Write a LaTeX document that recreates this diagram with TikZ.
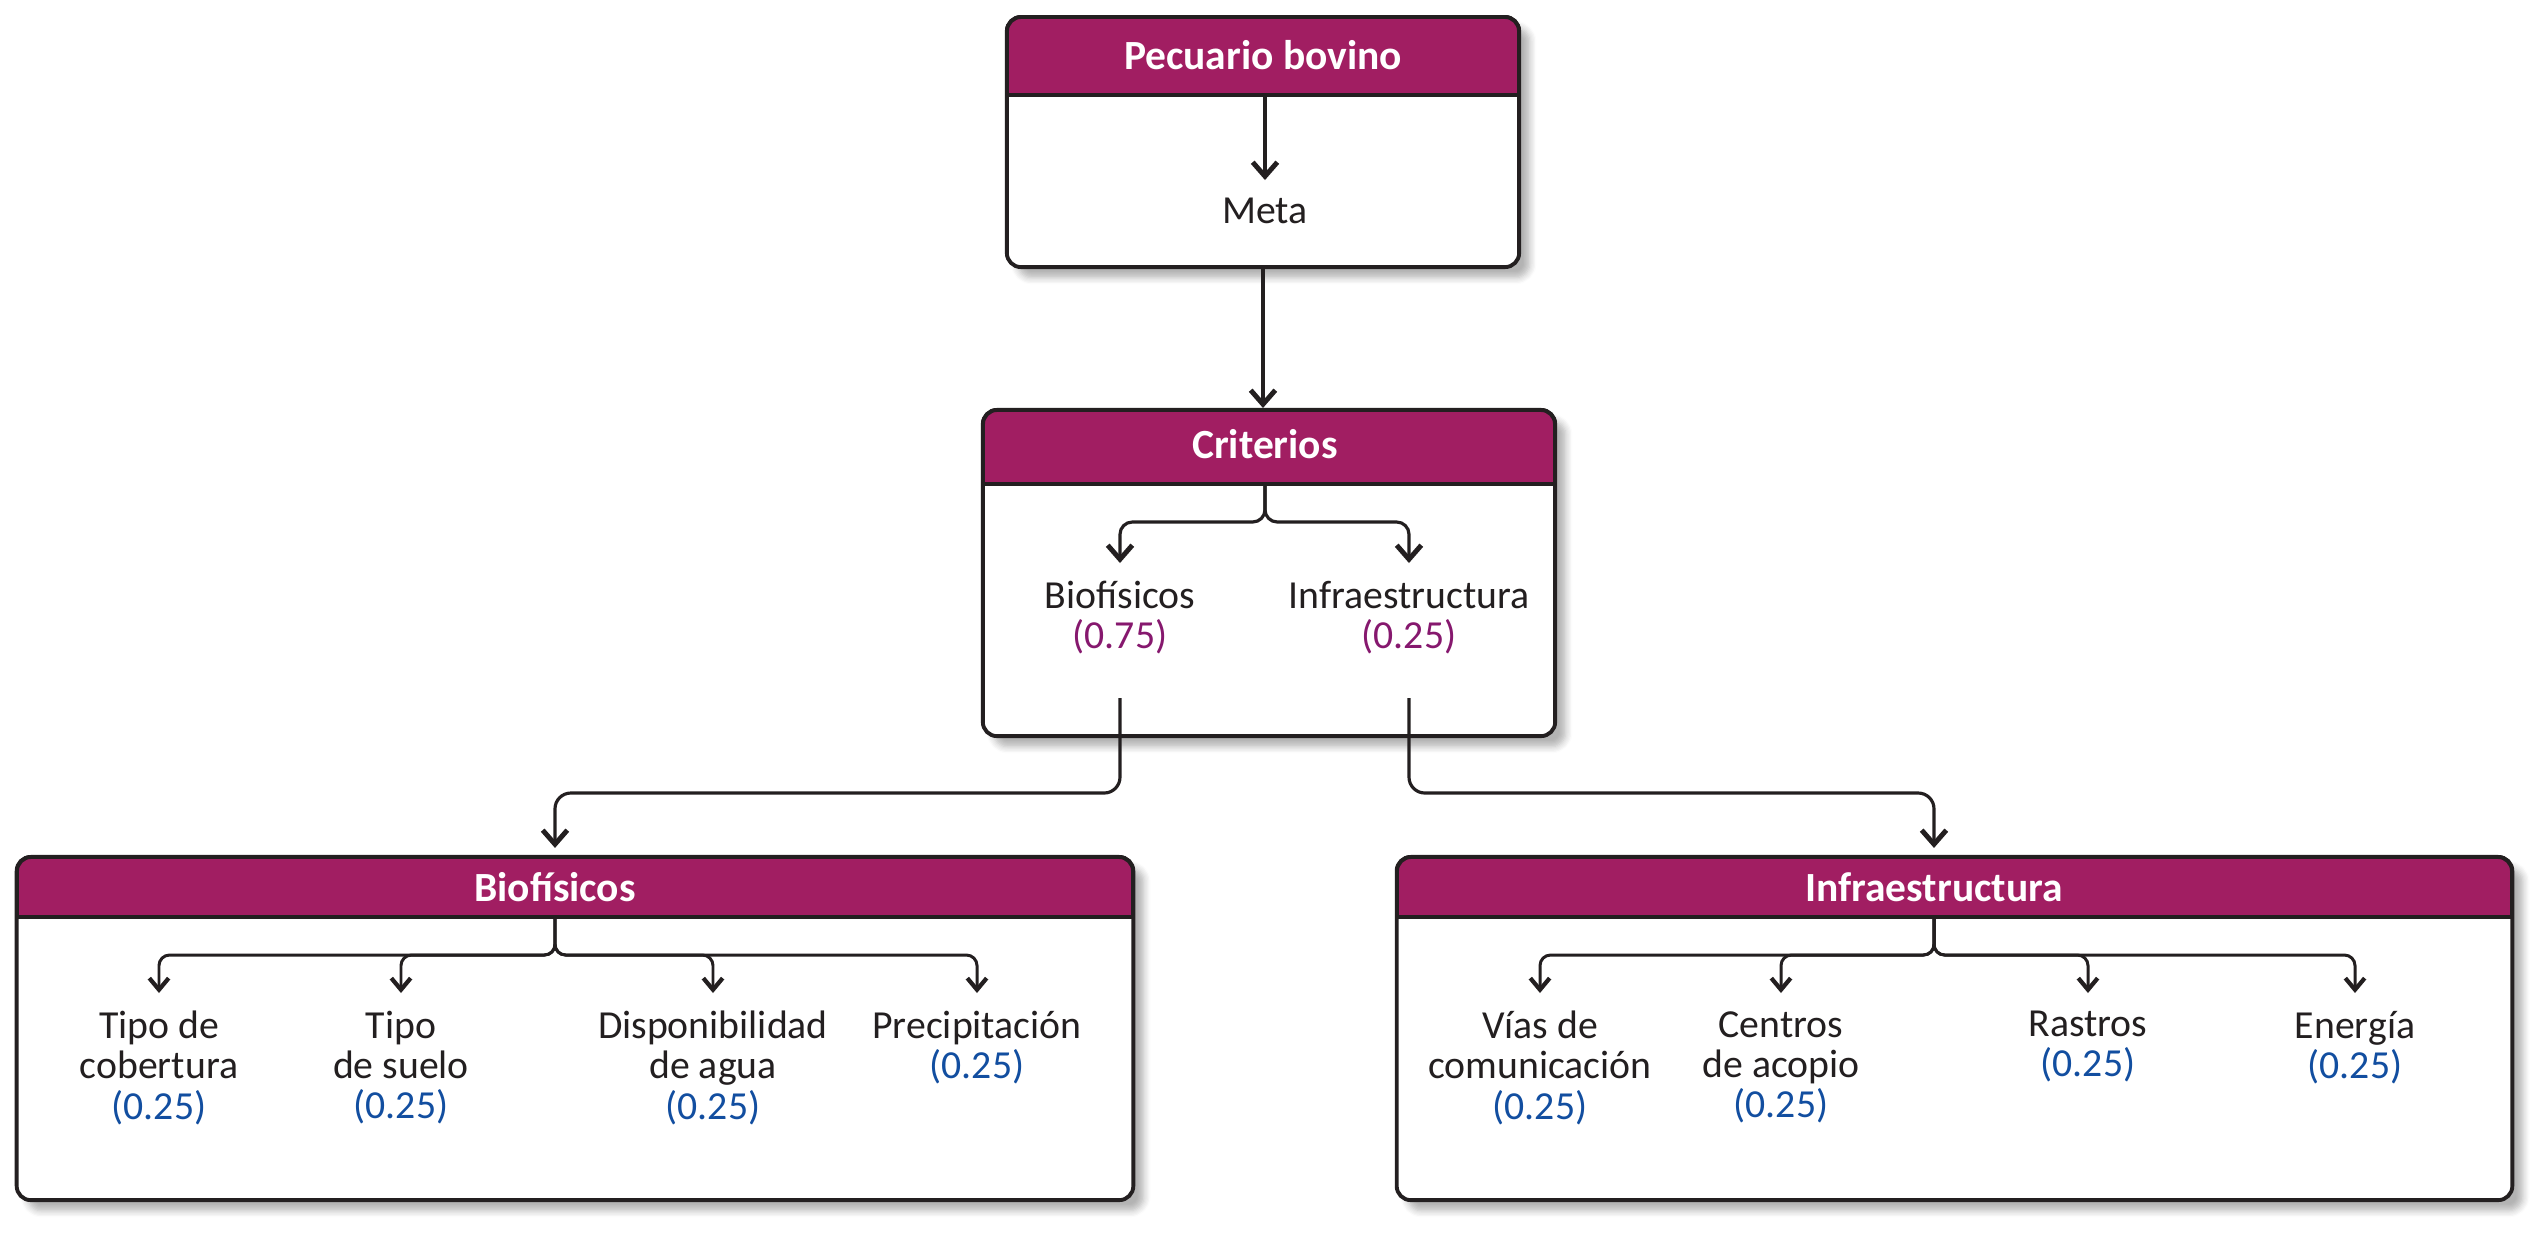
\documentclass[tikz,border=0pt]{standalone}
\usepackage{fontspec}
\setmainfont{Carlito}
\usepackage{xcolor}
\usepackage{tikz}
\usetikzlibrary{arrows.meta}
\usetikzlibrary{shadows.blur}
\definecolor{hdrmag}{RGB}{161,30,98}
\definecolor{wtpurple}{RGB}{134,24,110}
\definecolor{wtblue}{RGB}{18,78,160}
\definecolor{ink}{RGB}{35,31,32}
\tikzstyle{panel} = [draw=ink, line width=1.1pt, fill=white, rounded corners=4pt,
  blur shadow={shadow xshift=3pt, shadow yshift=-3pt, shadow opacity=30, shadow blur steps=6}]
\tikzstyle{hdrbar} = [fill=hdrmag, draw=ink, line width=1.1pt]
\tikzstyle{hdtext} = [text=white, font=\fontsize{11.8}{12}\selectfont\bfseries, inner sep=0]
\tikzstyle{item} = [align=center, text=ink, font=\fontsize{11.3}{11.4}\selectfont, anchor=north, inner xsep=1pt, inner ysep=5pt]
\tikzstyle{link} = [-{Straight Barb[length=4pt,width=7pt,line width=1.4pt]}, line width=0.9pt, draw=ink]
\tikzstyle{sublink} = [-{Straight Barb[length=3.3pt,width=5.5pt,line width=1.2pt]}, line width=0.85pt, draw=ink]

\begin{document}
\begin{tikzpicture}[x=0.01cm, y=-0.01cm]
\useasboundingbox (0,0) rectangle (2547,1235);
% panels
\node [panel, minimum width=5.12cm, minimum height=2.50cm] (goal) at (1263,142) {};
\node [panel, minimum width=5.72cm, minimum height=3.26cm] (crit) at (1269,573) {};
\node [panel, minimum width=11.16cm, minimum height=3.43cm] (bio) at (575,1028.5) {};
\node [panel, minimum width=11.15cm, minimum height=3.43cm] (infra) at (1954.5,1028.5) {};
% header bars
\draw [hdrbar] (1007,95) [rounded corners=4pt] -- (1007,17) -- (1519,17) [sharp corners] -- (1519,95) -- cycle;
\draw [hdrbar] (983,484) [rounded corners=4pt] -- (983,410) -- (1555,410) [sharp corners] -- (1555,484) -- cycle;
\draw [hdrbar] (17,917) [rounded corners=4pt] -- (17,857) -- (1133,857) [sharp corners] -- (1133,917) -- cycle;
\draw [hdrbar] (1397,917) [rounded corners=4pt] -- (1397,857) -- (2512,857) [sharp corners] -- (2512,917) -- cycle;
\node [hdtext] (goalhd) at (1263,55) {Pecuario bovino};
\node [hdtext] (crithd) at (1265,444) {Criterios};
\node [hdtext] (biohd) at (555,887) {Biofísicos};
\node [hdtext] (infrahd) at (1934,887) {Infraestructura};
\coordinate (goalbar) at (1265,95);
\coordinate (critbar) at (1265,484);
\coordinate (biobar) at (555,917);
\coordinate (infrabar) at (1934,917);
% items
\node [item] (meta) at (1265,180) {Meta};
\node [item] (cbio) at (1120,563) {Biofísicos\\\textcolor{wtpurple}{(0.75)}};
\node [item] (cinf) at (1409,563) {Infraestructura\\\textcolor{wtpurple}{(0.25)}};
\node [item] (cover) at (159,993) {Tipo de\\cobertura\\\textcolor{wtblue}{(0.25)}};
\node [item] (soil) at (401,993) {Tipo\\de suelo\\\textcolor{wtblue}{(0.25)}};
\node [item] (water) at (713,993) {Disponibilidad\\de agua\\\textcolor{wtblue}{(0.25)}};
\node [item] (rain) at (977,993) {Precipitación\\\textcolor{wtblue}{(0.25)}};
\node [item] (roads) at (1540,993) {Vías de\\comunicación\\\textcolor{wtblue}{(0.25)}};
\node [item] (depots) at (1781,993) {Centros\\de acopio\\\textcolor{wtblue}{(0.25)}};
\node [item] (slaughter) at (2088,993) {Rastros\\\textcolor{wtblue}{(0.25)}};
\node [item] (energy) at (2355,993) {Energía\\\textcolor{wtblue}{(0.25)}};
% connectors
\draw [link] (goalbar) -- (meta.north);
\draw [link] (goal.south) -- (goal.south |- crit.north);
\draw [link, rounded corners=3.5pt] (critbar) -- ++(0,38) -| (cbio.north);
\draw [link, rounded corners=3.5pt] (critbar) -- ++(0,38) -| (cinf.north);
\coordinate (cbioout) at (1120,698);
\coordinate (cinfout) at (1409,698);
\draw [link, rounded corners=4.5pt, shorten >=2pt] (cbioout) -- ++(0,95) -| (biohd.north |- bio.north);
\draw [link, rounded corners=4.5pt, shorten >=2pt] (cinfout) -- ++(0,95) -| (infrahd.north |- infra.north);
\foreach \sub in {cover,soil,water,rain}
  \draw [sublink, rounded corners=3pt] (biobar) -- ++(0,38) -| (\sub.north);
\foreach \sub in {roads,depots,slaughter,energy}
  \draw [sublink, rounded corners=3pt] (infrabar) -- ++(0,38) -| (\sub.north);
\end{tikzpicture}
\end{document}
